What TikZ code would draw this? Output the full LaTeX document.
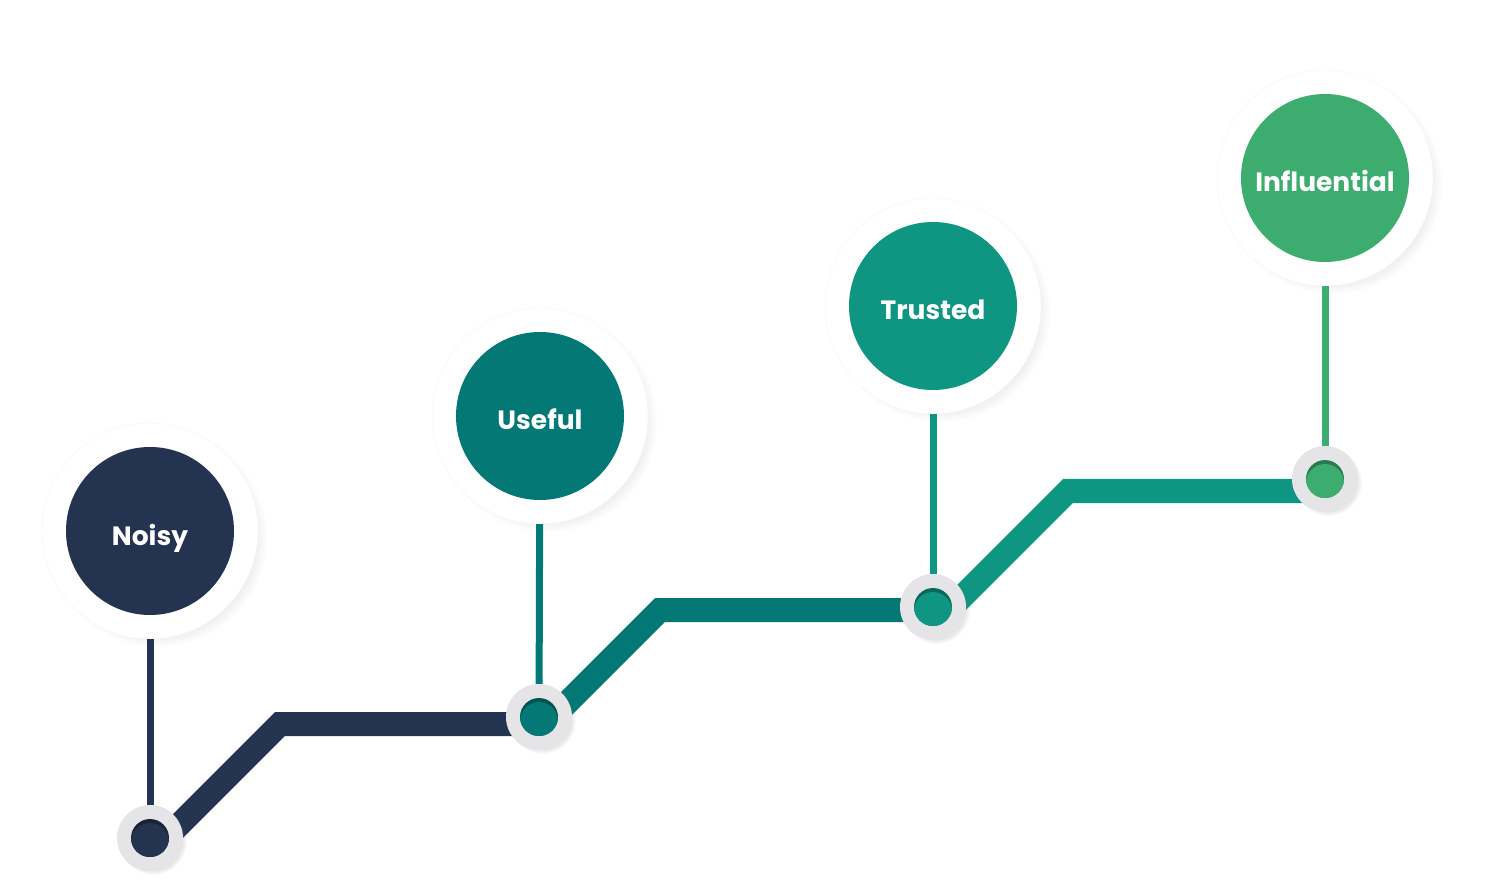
\documentclass[tikz,border=0pt]{standalone}
\usepackage{fontspec}
\newfontfamily\poppins{Poppins}
\usetikzlibrary{shadows, backgrounds}
\definecolor{navy}{HTML}{243450}
\definecolor{deepteal}{HTML}{037874}
\definecolor{midteal}{HTML}{0E9682}
\definecolor{leaf}{HTML}{3DAD6F}
\definecolor{ringgray}{HTML}{E5E5E7}

\begin{document}
\begin{tikzpicture}[x=1pt, y=-1pt,
		ring/.style={circle, fill=white, draw=black!4, minimum size=216pt, inner sep=0pt,
			circular drop shadow={shadow xshift=7pt, shadow yshift=-6pt, shadow scale=1.02, opacity=0.18}},
		bubble/.style={circle, fill=#1, minimum size=168pt, inner sep=0pt, text=white,
			text height=28pt, text depth=0pt,
			font=\poppins\bfseries\fontsize{26.5}{30}\selectfont},
		knob/.style={circle, fill=ringgray, minimum size=66pt, inner sep=0pt,
			circular drop shadow={shadow xshift=3pt, shadow yshift=-3pt, shadow scale=1.03, opacity=0.2}},
		pip/.style={circle, minimum size=38pt, inner sep=0pt, fill=#1!70!black,
			path picture={\fill[#1] ([yshift=-4pt]path picture bounding box.center) circle (19pt);}},
		stem/.style={line width=7pt},
		track/.style={line width=24pt, line join=miter}
	]
	\useasboundingbox (0,0) rectangle (1500,890);

	% stages
	\node[ring]          (noisy-ring)       at (150,531) {};
	\node[bubble=navy]   (noisy)            at (150,531) {Noisy};
	\node[ring]          (useful-ring)      at (540,416) {};
	\node[bubble=deepteal] (useful)         at (540,416) {Useful};
	\node[ring]          (trusted-ring)     at (933,306) {};
	\node[bubble=midteal] (trusted)         at (933,306) {Trusted};
	\node[ring]          (influential-ring) at (1325,178) {};
	\node[bubble=leaf]   (influential)      at (1325,178) {Influential};

	% knobs on the track
	\node[knob]         (noisy-knob)       at (150,838) {};
	\node[pip=navy]     (noisy-pip)        at (150,838) {};
	\node[knob]         (useful-knob)      at (539,717) {};
	\node[pip=deepteal] (useful-pip)       at (539,717) {};
	\node[knob]         (trusted-knob)     at (933,607) {};
	\node[pip=midteal]  (trusted-pip)      at (933,607) {};
	\node[knob]         (influential-knob) at (1325,479) {};
	\node[pip=leaf]     (influential-pip)  at (1325,479) {};

	\coordinate (start1) at (170,834);
	\coordinate (bend1)  at (280,724);
	\coordinate (start2) at (556,714);
	\coordinate (bend2)  at (660,610);
	\coordinate (start3) at (955,604);
	\coordinate (bend3)  at (1068,491);

	\begin{scope}[on background layer]
		\draw[track, navy]     (start1) -- (bend1) -- (bend1 -| useful-knob);
		\draw[track, deepteal] (start2) -- (bend2) -- (bend2 -| trusted-knob);
		\draw[track, midteal]  (start3) -- (bend3) -- (bend3 -| influential-knob);
	\end{scope}

	% stems
	\draw[stem, navy]     (noisy-ring)       -- (noisy-knob);
	\draw[stem, deepteal] (useful-ring)      -- (useful-knob);
	\draw[stem, midteal]  (trusted-ring)     -- (trusted-knob);
	\draw[stem, leaf]     (influential-ring) -- (influential-knob);
\end{tikzpicture}
\end{document}
